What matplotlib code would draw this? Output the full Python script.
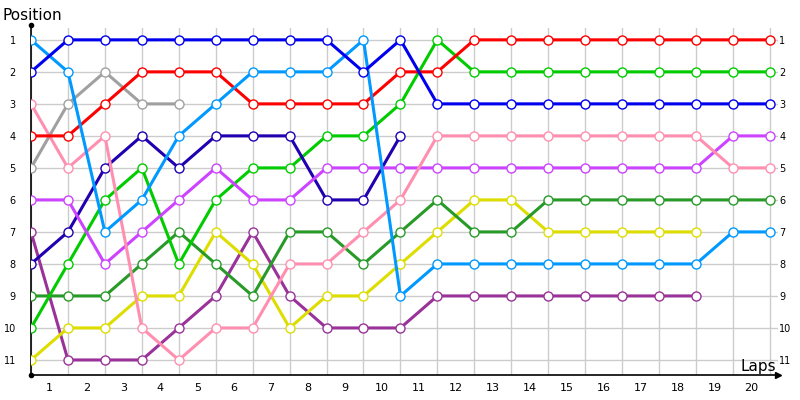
import numpy as np
import matplotlib.pyplot as plt

laps = list(range(0, 21))
lap_labels = [str(i) for i in range(1, 21)]
positions = list(range(1, 12))

# position per lap (lap 0 = grid), None = retired
blue = [2, 1, 1, 1, 1, 1, 1, 1, 1, 2, 1, 3, 3, 3, 3, 3, 3, 3, 3, 3, 3]
light_blue = [1, 2, 7, 6, 4, 3, 2, 2, 2, 1, 9, 8, 8, 8, 8, 8, 8, 8, 8, 7, 7]
red = [4, 4, 3, 2, 2, 2, 3, 3, 3, 3, 2, 2, 1, 1, 1, 1, 1, 1, 1, 1, 1]
gray = [5, 3, 2, 3, 3] + [None] * 16
pink = [3, 5, 4, 10, 11, 10, 10, 8, 8, 7, 6, 4, 4, 4, 4, 4, 4, 4, 4, 5, 5]
violet = [6, 6, 8, 7, 6, 5, 6, 6, 5, 5, 5, 5, 5, 5, 5, 5, 5, 5, 5, 4, 4]
navy = [8, 7, 5, 4, 5, 4, 4, 4, 6, 6, 4] + [None] * 10
green = [10, 8, 6, 5, 8, 6, 5, 5, 4, 4, 3, 1, 2, 2, 2, 2, 2, 2, 2, 2, 2]
dark_green = [9, 9, 9, 8, 7, 8, 9, 7, 7, 8, 7, 6, 7, 7, 6, 6, 6, 6, 6, 6, 6]
yellow = [11, 10, 10, 9, 9, 7, 8, 10, 9, 9, 8, 7, 6, 6, 7, 7, 7, 7, 7] + [None] * 2
purple = [7, 11, 11, 11, 10, 9, 7, 9, 10, 10, 10, 9, 9, 9, 9, 9, 9, 9, 9] + [None] * 2

series = [
    (purple, '#993399'),
    (yellow, '#dddd00'),
    (dark_green, '#289a28'),
    (green, '#00cc00'),
    (navy, '#2000b0'),
    (violet, '#cc44ff'),
    (pink, '#ff8fb0'),
    (gray, '#a0a0a0'),
    (red, '#ff0000'),
    (light_blue, '#0099ff'),
    (blue, '#0000ee'),
]

plt.rcParams['font.family'] = ['DejaVu Sans']

fig = plt.figure(figsize=(8, 4), dpi=100)
ax = fig.add_axes([31 / 800, 25 / 400, 747 / 800, 347 / 400])

for vals, col in series:
    y = np.array([np.nan if v is None else v for v in vals], dtype=float)
    ax.plot(laps, y, color=col, linewidth=2.2, marker='o', markersize=6.5,
            markerfacecolor='white', markeredgecolor=col, markeredgewidth=1.0,
            zorder=3)

ax.set_xlim(0, 20.22)
ax.set_ylim(11.47, 0.63)

ax.set_yticks(positions)
ax.set_yticklabels([str(p) for p in positions])
ax.tick_params(axis='y', length=0, labelsize=7, pad=11)
ax.set_xticks(laps)
ax.set_xticklabels([])
ax.set_xticks([i - 0.5 for i in range(1, 21)], minor=True)
ax.set_xticklabels(lap_labels, minor=True)
ax.tick_params(axis='x', which='both', length=0, labelsize=8, pad=6)

ax.grid(True, color='#cccccc', linewidth=1)
ax.set_axisbelow(True)

# right side position labels
ax2 = ax.twinx()
ax2.set_ylim(ax.get_ylim())
ax2.set_yticks(positions)
ax2.set_yticklabels([str(p) for p in positions])
ax2.tick_params(axis='y', length=0, labelsize=7, pad=1)
for s in ax2.spines.values():
    s.set_visible(False)

for s in ['top', 'right']:
    ax.spines[s].set_visible(False)
ax.spines['left'].set_color('black')
ax.spines['bottom'].set_color('black')
ax.spines['left'].set_linewidth(1.2)
ax.spines['bottom'].set_linewidth(1.2)

# axis ends
ax.plot([0], [1.01], marker='o', color='black', markersize=3, transform=ax.transAxes, clip_on=False)
ax.plot([0], [0], marker='o', color='black', markersize=3, transform=ax.transAxes, clip_on=False)
ax.plot([1.0], [0], marker='>', color='black', markersize=5, transform=ax.transAxes, clip_on=False)

fig.text(3 / 800, 1 - 16 / 400, 'Position', fontsize=11, va='center', ha='left')
fig.text(776 / 800, 1 - 366 / 400, 'Laps', fontsize=11, va='center', ha='right')

fig.savefig('out.png', dpi=100)
